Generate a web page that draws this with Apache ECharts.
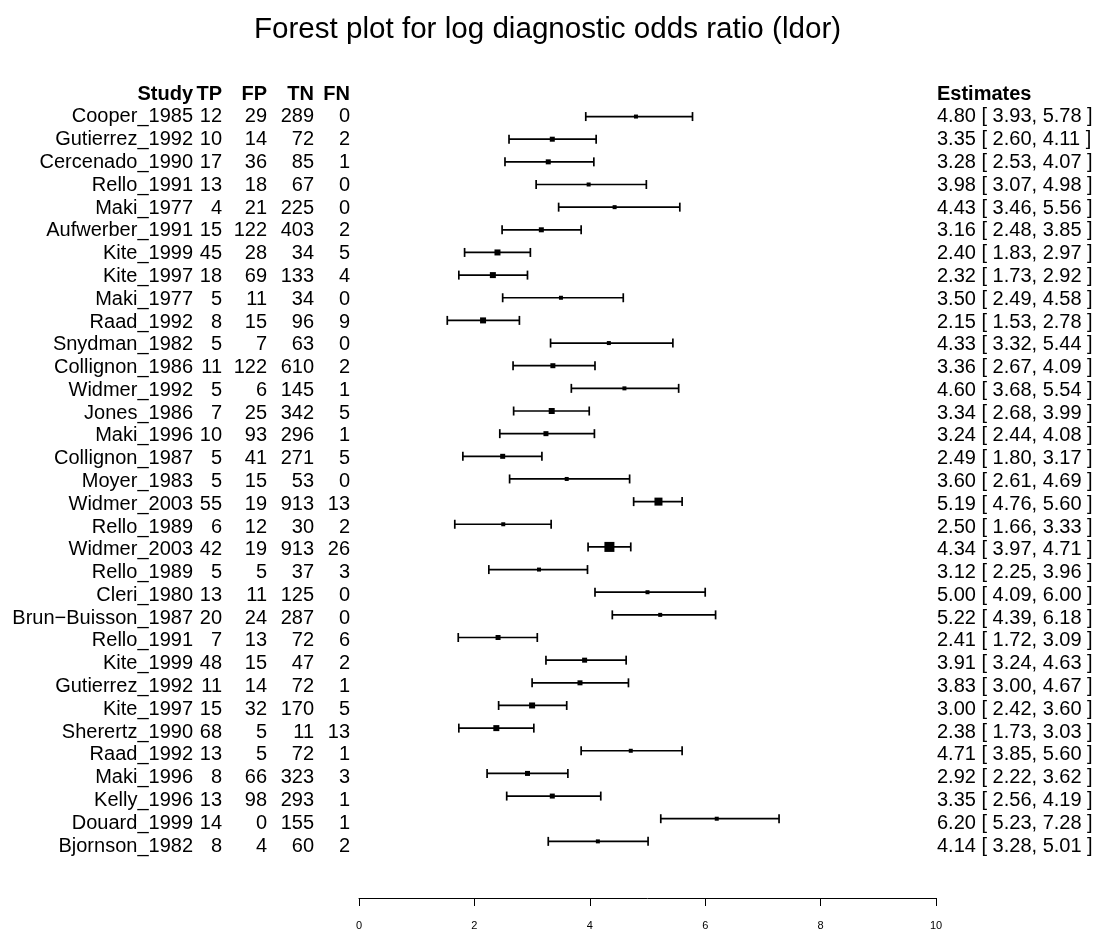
<!DOCTYPE html>
<html><head><meta charset="utf-8">
<script src="https://cdn.jsdelivr.net/npm/echarts@6/dist/echarts.min.js"></script>
<style>html,body{margin:0;padding:0;background:#fff}#c{width:1095px;height:931px}</style>
</head><body><div id="c"></div>
<script>
// ---- data ----
const studies = ['Cooper_1985','Gutierrez_1992','Cercenado_1990','Rello_1991','Maki_1977','Aufwerber_1991','Kite_1999','Kite_1997','Maki_1977','Raad_1992','Snydman_1982','Collignon_1986','Widmer_1992','Jones_1986','Maki_1996','Collignon_1987','Moyer_1983','Widmer_2003','Rello_1989','Widmer_2003','Rello_1989','Cleri_1980','Brun\u2212Buisson_1987','Rello_1991','Kite_1999','Gutierrez_1992','Kite_1997','Sherertz_1990','Raad_1992','Maki_1996','Kelly_1996','Douard_1999','Bjornson_1982'];
const TP = [12,10,17,13,4,15,45,18,5,8,5,11,5,7,10,5,5,55,6,42,5,13,20,7,48,11,15,68,13,8,13,14,8];
const FP = [29,14,36,18,21,122,28,69,11,15,7,122,6,25,93,41,15,19,12,19,5,11,24,13,15,14,32,5,5,66,98,0,4];
const TN = [289,72,85,67,225,403,34,133,34,96,63,610,145,342,296,271,53,913,30,913,37,125,287,72,47,72,170,11,72,323,293,155,60];
const FN = [0,2,1,0,0,2,5,4,0,9,0,2,1,5,1,5,0,13,2,26,3,0,0,6,2,1,5,13,1,3,1,1,2];
const est   = [4.80,3.35,3.28,3.98,4.43,3.16,2.40,2.32,3.50,2.15,4.33,3.36,4.60,3.34,3.24,2.49,3.60,5.19,2.50,4.34,3.12,5.00,5.22,2.41,3.91,3.83,3.00,2.38,4.71,2.92,3.35,6.20,4.14];
const lower = [3.93,2.60,2.53,3.07,3.46,2.48,1.83,1.73,2.49,1.53,3.32,2.67,3.68,2.68,2.44,1.80,2.61,4.76,1.66,3.97,2.25,4.09,4.39,1.72,3.24,3.00,2.42,1.73,3.85,2.22,2.56,5.23,3.28];
const upper = [5.78,4.11,4.07,4.98,5.56,3.85,2.97,2.92,4.58,2.78,5.44,4.09,5.54,3.99,4.08,3.17,4.69,5.60,3.33,4.71,3.96,6.00,6.18,3.09,4.63,4.67,3.60,3.03,5.60,3.62,4.19,7.28,5.01];
const boxSize = [4,5,5,4,4,5,6,6,4,6,4,5,4,6,5,5,4,8,4,10,4,4,4,5,5,5,6,6,4,5,5,4,4];
const headers = ['Study','TP','FP','TN','FN'];
const estHeader = 'Estimates';
const xTicks = [0,2,4,6,8,10];
const titleText = 'Forest plot for log diagnostic odds ratio (ldor)';

// ---- layout (not data) ----
const W = 1095, H = 931;
const axL = 359, axR = 936;          // pixel span of 0..10
const pxPerUnit = (axR - axL) / 10;
const yMin = -1.5, yMax = 36, plotTop = 48.6, plotBottom = 903;
const xlimMin = -axL / pxPerUnit, xlimMax = (W - axL) / pxPerUnit;
const colX = [193, 222, 267, 314, 350].map(p => (p - axL) / pxPerUnit); // right edges
const estX = (937 - axL) / pxPerUnit;                                  // left edge
const FONT = '"Liberation Sans", Arial, Helvetica, sans-serif';
const FS = 20;

const k = studies.length;
const rowY = studies.map((_, i) => k - i);
const headerY = k + 1;

const fmt = v => v.toFixed(2);
const estLabels = est.map((e, i) => fmt(e) + ' [ ' + fmt(lower[i]) + ', ' + fmt(upper[i]) + ' ]');
const cols = [studies, TP, FP, TN, FN];

const tableData = rowY.map((y, i) => [i, y]);
tableData.push([-1, headerY]);

const chart = echarts.init(document.getElementById('c'), null, {renderer: 'canvas'});
chart.setOption({
  backgroundColor: '#fff',
  animation: false,
  title: {
    text: titleText, left: 'center', top: 10,
    textStyle: {fontFamily: FONT, fontSize: 29.6, fontWeight: 'normal', color: '#000'}
  },
  grid: [
    {left: 0, right: 0, top: plotTop, bottom: H - plotBottom},
    {left: axL, right: W - axR, top: plotTop, bottom: H - plotBottom}
  ],
  xAxis: [
    {gridIndex: 0, type: 'value', min: xlimMin, max: xlimMax, show: false},
    {gridIndex: 1, type: 'value', min: 0, max: 10, interval: 2,
     axisLine: {show: true, onZero: false, lineStyle: {color: '#000', width: 1}},
     axisTick: {show: true, inside: false, length: 8, lineStyle: {color: '#000', width: 1}},
     axisLabel: {show: true, margin: 22, color: '#000', fontFamily: FONT, fontSize: 11,
                 formatter: v => xTicks.includes(v) ? String(v) : ''},
     splitLine: {show: false}}
  ],
  yAxis: [
    {gridIndex: 0, type: 'value', min: yMin, max: yMax, show: false},
    {gridIndex: 1, type: 'value', min: yMin, max: yMax, show: false}
  ],
  series: [
    {
      type: 'custom', xAxisIndex: 0, yAxisIndex: 0, clip: false,
      data: tableData,
      renderItem: (params, api) => {
        const i = api.value(0), y = api.value(1);
        const children = [];
        const isHead = i < 0;
        for (let c = 0; c < cols.length; c++) {
          const p = api.coord([colX[c], y]);
          children.push({type: 'text', x: p[0], y: p[1], style: {
            text: isHead ? headers[c] : String(cols[c][i]),
            align: 'right', verticalAlign: 'middle', fill: '#000',
            font: (isHead ? 'bold ' : '') + FS + 'px ' + FONT}});
        }
        const pe = api.coord([estX, y]);
        children.push({type: 'text', x: pe[0], y: pe[1], style: {
          text: isHead ? estHeader : estLabels[i],
          align: 'left', verticalAlign: 'middle', fill: '#000',
          font: (isHead ? 'bold ' : '') + FS + 'px ' + FONT}});
        return {type: 'group', children};
      }
    },
    {
      type: 'custom', xAxisIndex: 1, yAxisIndex: 1, clip: false,
      data: rowY.map((y, i) => [lower[i], upper[i], est[i], y, boxSize[i]]),
      renderItem: (params, api) => {
        const lo = api.coord([api.value(0), api.value(3)]);
        const hi = api.coord([api.value(1), api.value(3)]);
        const pt = api.coord([api.value(2), api.value(3)]);
        const s = api.value(4);
        const cap = 4.5;
        const ls = {stroke: '#000', lineWidth: 1.7};
        return {type: 'group', children: [
          {type: 'line', shape: {x1: lo[0], y1: lo[1], x2: hi[0], y2: hi[1]}, style: ls},
          {type: 'line', shape: {x1: lo[0], y1: lo[1] - cap, x2: lo[0], y2: lo[1] + cap}, style: ls},
          {type: 'line', shape: {x1: hi[0], y1: hi[1] - cap, x2: hi[0], y2: hi[1] + cap}, style: ls},
          {type: 'rect', shape: {x: pt[0] - s / 2, y: pt[1] - s / 2, width: s, height: s}, style: {fill: '#000'}}
        ]};
      }
    }
  ]
});
</script>
</body></html>
